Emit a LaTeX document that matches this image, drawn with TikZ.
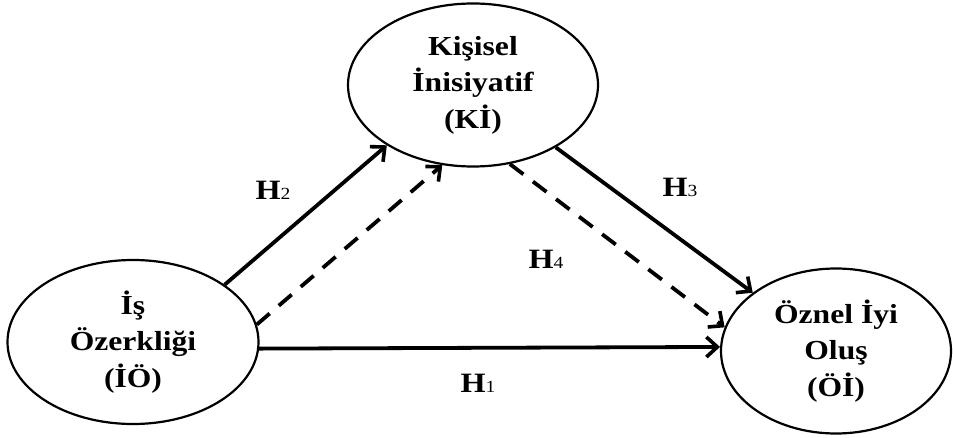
\documentclass[tikz,border=0pt]{standalone}
\usepackage{fontspec}
\setmainfont{Liberation Serif}[FakeStretch=1.15]
\usetikzlibrary{arrows.meta,shapes.geometric}
\newcommand\hlab[1]{H{\fontsize{17}{17}\selectfont\mdseries #1}}
\begin{document}
\begin{tikzpicture}[x=1pt,y=-1pt,
  ell/.style={draw, line width=2.2pt, ellipse, inner sep=0pt, align=center,
    font=\fontsize{27.5}{36.5}\selectfont\bfseries},
  conn/.style={line width=3.8pt, -{Straight Barb[length=11pt,width=20pt,line width=3.6pt]}},
  dconn/.style={conn, dash pattern=on 17pt off 12pt},
  hl/.style={font=\fontsize{28}{30}\selectfont\bfseries, inner sep=0pt}]
\useasboundingbox (0,0) rectangle (953,438);
\node[ell, minimum width=250pt, minimum height=163pt] (KI) at (473,85) {Kişisel\\İnisiyatif\\(Kİ)};
\node[ell, minimum width=251pt, minimum height=164pt] (IO) at (133,342) {İş\\Özerkliği\\(İÖ)};
\node[ell, minimum width=230pt, minimum height=165pt] (OI) at (836,351) {Öznel İyi\\Oluş\\(Öİ)};
\draw[conn] (IO.32) -- (KI.215);
\draw[dconn] (IO.8) -- (KI.249);
\draw[conn] (KI.-37) -- (OI.145);
\draw[dconn] (KI.-65) -- (OI.168);
\draw[conn] (IO.-3) -- (OI.178);
\node[hl] (h2) at (273,190) {\hlab{2}};
\node[hl] (h3) at (680,187) {\hlab{3}};
\node[hl] (h4) at (546,259) {\hlab{4}};
\node[hl] (h1) at (478,383) {\hlab{1}};
\end{tikzpicture}
\end{document}
